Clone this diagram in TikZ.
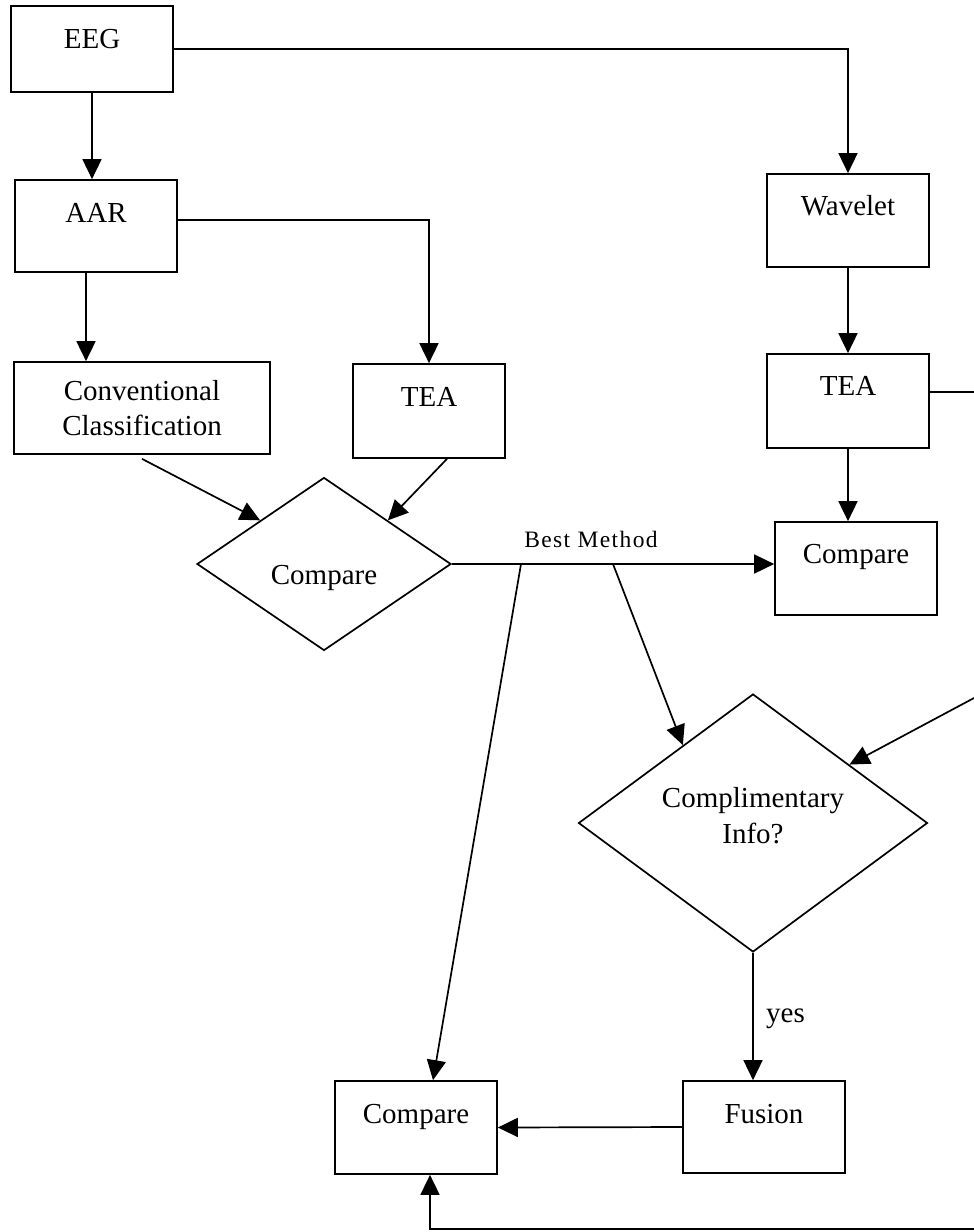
\documentclass[tikz,border=0pt]{standalone}
\usepackage{fontspec}
\setmainfont{Liberation Serif}
\usetikzlibrary{shapes.geometric, arrows.meta, calc}
\colorlet{rule}{black}
\tikzset{
  blk/.style  ={draw=rule, rectangle, inner sep=0pt, line width=1.7pt,
                align=center, font=\fontsize{29}{35}\selectfont},
  dec/.style  ={draw=rule, diamond, inner sep=0pt, line width=1.7pt,
                align=center, font=\fontsize{29}{36}\selectfont},
  flow/.style ={-{Triangle[length=20pt, width=19pt]}, rule, line width=1.7pt},
  link/.style ={-, rule, line width=1.7pt},
  tag/.style  ={inner sep=0pt, font=\fontsize{29}{35}\selectfont},
  tagsm/.style={inner sep=0pt,
                font=\fontsize{23.5}{28}\selectfont\addfontfeature{LetterSpace=6}},
}

\begin{document}
\begin{tikzpicture}[x=1pt, y=-1pt]
\useasboundingbox (0,0) rectangle (974,1232);

% left column
\node[blk, anchor=base, minimum width=162pt, text height=42pt, text depth=44pt]
  (eeg) at (92,48) {EEG};
\node[blk, anchor=base, minimum width=162pt, text height=42pt, text depth=50pt]
  (aar) at (96,222) {AAR};
\node[blk, anchor=base, minimum width=256pt, text height=73pt, text depth=19pt]
  (conv) at (142,435) {Conventional\\ Classification};
\node[blk, anchor=base, minimum width=152pt, text height=42pt, text depth=52pt]
  (teaA) at (429,406) {TEA};
\node[dec, minimum width=254pt, minimum height=173pt, text height=40pt, text depth=0pt]
  (cmpD) at (324,564) {Compare};

\draw[flow] (eeg.south) -- (eeg.south |- aar.north);
\draw[flow] ([yshift=6pt]aar.east) -| (teaA.north);
\draw[flow] ([xshift=-10pt]aar.south) -- ([xshift=-10pt]aar.south |- conv.north);
\draw[flow] ([yshift=-4pt]conv.south) -- (cmpD.north west);
\draw[flow] ([xshift=18pt]teaA.south) -- (cmpD.north east);

% wavelet column
\node[blk, anchor=base, minimum width=162pt, text height=41pt, text depth=52pt]
  (wav) at (848,215) {Wavelet};
\node[blk, anchor=base, minimum width=162pt, text height=41pt, text depth=53pt]
  (teaB) at (848,395) {TEA};
\node[blk, anchor=base, minimum width=162pt, text height=41pt, text depth=52pt]
  (cmpR) at (856,563) {Compare};

\draw[flow] (eeg.east) -| (wav.north);
\draw[flow] (wav.south) -- (teaB.north);
\draw[flow] (teaB.south) -- (teaB.south |- cmpR.north);
\coordinate (offR) at (974,392);
\draw[link] (teaB.east |- offR) -- (offR);

% best method
\draw[flow] (cmpD.east) -- (cmpD.east -| cmpR.west);
\node[tagsm, anchor=base] (best) at (591,547) {Best Method};
\coordinate (br1) at (521,564);
\coordinate (br2) at (613,564);

% fusion part
\node[dec, minimum width=349pt, minimum height=258pt, text height=40pt, text depth=0pt]
  (info) at (753,823) {Complimentary\\ Info?};
\node[blk, anchor=base, minimum width=162pt, text height=42pt, text depth=50pt]
  (fus) at (764,1123) {Fusion};
\node[blk, anchor=base, minimum width=162pt, text height=42pt, text depth=51pt]
  (cmpB) at (416,1123) {Compare};

\draw[flow] (br2) -- ($(info.west)!0.6!(info.north)$);
\coordinate (offI) at (974,698);
\draw[flow] (offI) -- ($(info.north)!0.55!(info.east)$);
\draw[flow] (info.south) -- (info.south |- fus.north);
\node[tag, anchor=base west] (yes) at (766,1022) {yes};
\draw[flow] (br1) -- ([xshift=17pt]cmpB.north);
\draw[flow] (fus.west) -- (cmpB.east);
\coordinate (offB) at (974,1229);
\draw[flow] (offB) -| ([xshift=14pt]cmpB.south);

\end{tikzpicture}
\end{document}
